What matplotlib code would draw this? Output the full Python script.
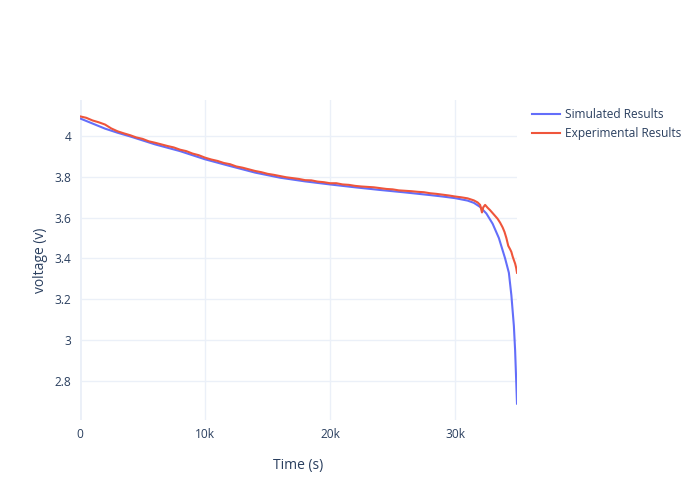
import matplotlib
matplotlib.use('Agg')
import matplotlib.pyplot as plt
from matplotlib.ticker import FixedLocator

plt.rcParams['font.family'] = ['Open Sans', 'DejaVu Sans']

# Simulated discharge curve
sim_time = [0, 1000, 2000, 3000, 4000, 6000, 8000, 10000, 12000, 14000, 16000,
            18000, 20000, 22000, 24000, 26000, 28000, 29000, 30000, 31000, 31500,
            32000, 32500, 33000, 33500, 34000, 34300, 34500, 34700, 34800, 34950]
sim_volt = [4.085, 4.06, 4.035, 4.015, 3.997, 3.958, 3.925, 3.885, 3.852, 3.82, 3.795,
            3.777, 3.762, 3.748, 3.735, 3.723, 3.71, 3.703, 3.695, 3.683, 3.672,
            3.652, 3.62, 3.57, 3.5, 3.4, 3.33, 3.22, 3.07, 2.95, 2.69]

# Experimental discharge curve
exp_time = [0, 500, 1000, 1500, 2000, 2500, 3000, 3500, 4000, 4500, 5000, 5500,
            6000, 6500, 7000, 7500, 8000, 8500, 9000, 9500, 10000, 10500, 11000,
            11500, 12000, 12500, 13000, 13500, 14000, 14500, 15000, 15500, 16000,
            16500, 17000, 17500, 18000, 18500, 19000, 19500, 20000, 20500, 21000,
            21500, 22000, 22500, 23000, 23500, 24000, 24500, 25000, 25500, 26000,
            26500, 27000, 27500, 28000, 28500, 29000, 29500, 30000, 30500, 31000,
            31500, 31800, 32000, 32150, 32250, 32400, 32600, 32800, 33000, 33200,
            33400, 33600, 33800, 33950, 34100, 34250, 34400, 34500, 34600, 34700,
            34800, 34880, 34950]
exp_volt = [4.095, 4.088, 4.075, 4.066, 4.055, 4.036, 4.022, 4.012, 4.003, 3.992,
            3.985, 3.973, 3.966, 3.958, 3.950, 3.943, 3.932, 3.925, 3.913, 3.905,
            3.893, 3.884, 3.877, 3.867, 3.861, 3.850, 3.844, 3.836, 3.828, 3.822,
            3.814, 3.809, 3.803, 3.797, 3.793, 3.789, 3.783, 3.782, 3.776, 3.773,
            3.768, 3.768, 3.762, 3.760, 3.755, 3.752, 3.750, 3.748, 3.744, 3.740,
            3.738, 3.733, 3.731, 3.729, 3.726, 3.724, 3.719, 3.716, 3.712, 3.708,
            3.703, 3.699, 3.694, 3.684, 3.674, 3.662, 3.625, 3.650, 3.662, 3.648,
            3.636, 3.622, 3.608, 3.594, 3.575, 3.552, 3.530, 3.500, 3.462, 3.445,
            3.432, 3.410, 3.392, 3.375, 3.355, 3.330]

y_ticks = [2.8, 3.0, 3.2, 3.4, 3.6, 3.8, 4.0]
y_labels = ['2.8', '3', '3.2', '3.4', '3.6', '3.8', '4']
x_ticks = [0, 10000, 20000, 30000]
x_labels = ['0', '10k', '20k', '30k']

text_col = '#2a3f5f'
grid_col = '#EBF0F8'

fig = plt.figure(figsize=(7, 5), dpi=100)
ax = fig.add_axes([80/700, 80/500, 437/700, 320/500])

ax.plot(sim_time, sim_volt, color='#636efa', lw=1.5, label='Simulated Results', zorder=3)
ax.plot(exp_time, exp_volt, color='#EF553B', lw=1.5, label='Experimental Results', zorder=3)

ax.set_xlim(0, 34950)
ax.set_ylim(2.61, 4.175)
ax.xaxis.set_major_locator(FixedLocator(x_ticks))
ax.set_xticklabels(x_labels)
ax.yaxis.set_major_locator(FixedLocator(y_ticks))
ax.set_yticklabels(y_labels)
ax.grid(True, color=grid_col, lw=1, zorder=0)
ax.axvline(0, color=grid_col, lw=2, zorder=1)
for s in ax.spines.values():
    s.set_visible(False)
ax.tick_params(length=0, labelsize=8.6, colors=text_col, pad=6)

ax.set_xlabel('Time (s)', fontsize=10, color=text_col, labelpad=12)
ax.set_ylabel('voltage (v)', fontsize=10, color=text_col, labelpad=5)

fig.legend(loc='upper left', bbox_to_anchor=(527/700, 1 - 103/500), frameon=False,
           fontsize=8.6, labelcolor=text_col, handlelength=2.4, handletextpad=0.4,
           labelspacing=0.55, borderaxespad=0)

fig.savefig('out.png', dpi=100, facecolor='white')
